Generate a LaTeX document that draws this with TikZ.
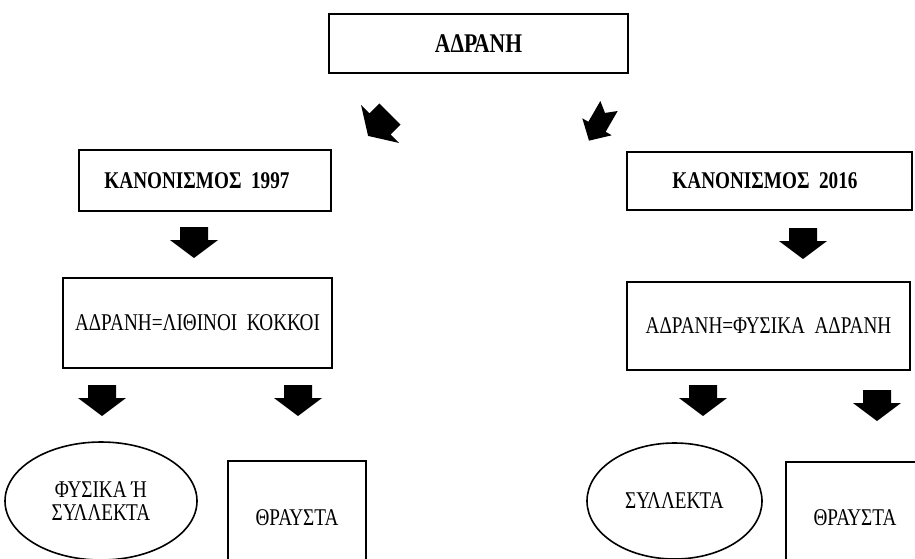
\documentclass[tikz,border=0pt]{standalone}
\usepackage{fontspec}
\setmainfont[FakeStretch=0.8]{Liberation Serif}
\usetikzlibrary{shapes.geometric}
\newcommand\hdrfont{\fontsize{24}{26}\selectfont\bfseries}
\newcommand\topfont{\fontsize{27}{29}\selectfont\bfseries}
\newcommand\txtfont{\fontsize{24}{23}\selectfont}
\begin{document}
\begin{tikzpicture}[x=1pt,y=-1pt,
  box/.style={draw, line width=1.6pt, inner sep=0pt, font=\txtfont, align=center},
  ell/.style={draw, ellipse, line width=1.6pt, inner sep=0pt, font=\txtfont, align=center},
  downarr/.pic={\fill (-14,0) -- (14,0) -- (14,13) -- (24,13) -- (0,31) -- (-24,13) -- (-14,13) -- cycle;},
  diagarr/.pic={\fill (-15,0) -- (15,0) -- (15,14) -- (27,14) -- (0,31) -- (-27,14) -- (-15,14) -- cycle;},
  notcharr/.pic={\fill (-10,0) -- (0,8) -- (10,0) -- (10,24) -- (17,24) -- (0,40) -- (-17,24) -- (-10,24) -- cycle;}]
\useasboundingbox (0,0) rectangle (915,558);
\clip (0,0) rectangle (915,558);
\fill[white] (0,0) rectangle (915,558);

\node[box, font=\topfont, minimum width=299pt, minimum height=59pt] (top) at (478.5,43.5) {ΑΔΡΑΝΗ};
\pic (dl) [rotate=-45] at (390,114) {diagarr};
\pic (dr) [rotate=-30] at (609,106) {notcharr};

\node[box, font=\hdrfont, minimum width=252pt, minimum height=61pt] (k97) at (205,180.5) {\hspace*{-16pt}ΚΑΝΟΝΙΣΜΟΣ\ \ 1997};
\node[box, font=\hdrfont, minimum width=285pt, minimum height=58pt] (k16) at (769.5,181) {\hspace*{-9pt}ΚΑΝΟΝΙΣΜΟΣ\ \ 2016};

\pic (a1) at (194,227) {downarr};
\pic (a2) at (803,228) {downarr};

\node[box, minimum width=269pt, minimum height=90pt] (lith) at (197.5,323) {\raisebox{-7pt}{ΑΔΡΑΝΗ=ΛΙΘΙΝΟΙ\ \ ΚΟΚΚΟΙ}};
\node[box, minimum width=283pt, minimum height=88pt] (phys) at (768.5,326) {\raisebox{-5pt}{ΑΔΡΑΝΗ=ΦΥΣΙΚΑ\ \ ΑΔΡΑΝΗ}};

\pic (a3) at (102,385) {downarr};
\pic (a4) at (298,385) {downarr};
\pic (a5) at (703,385) {downarr};
\pic (a6) at (877,390) {downarr};

\node[ell, minimum width=192pt, minimum height=118pt] (fys) at (101,501) {ΦΥΣΙΚΑ Ή\\ΣΥΛΛΕΚΤΑ};
\node[box, minimum width=138pt, minimum height=114pt] (thr1) at (297,518) {ΘΡΑΥΣΤΑ};
\node[ell, minimum width=175pt, minimum height=116pt] (syl) at (674.5,501) {ΣΥΛΛΕΚΤΑ};
\node[box, minimum width=138pt, minimum height=112pt] (thr2) at (855,518) {ΘΡΑΥΣΤΑ};
\end{tikzpicture}
\end{document}
